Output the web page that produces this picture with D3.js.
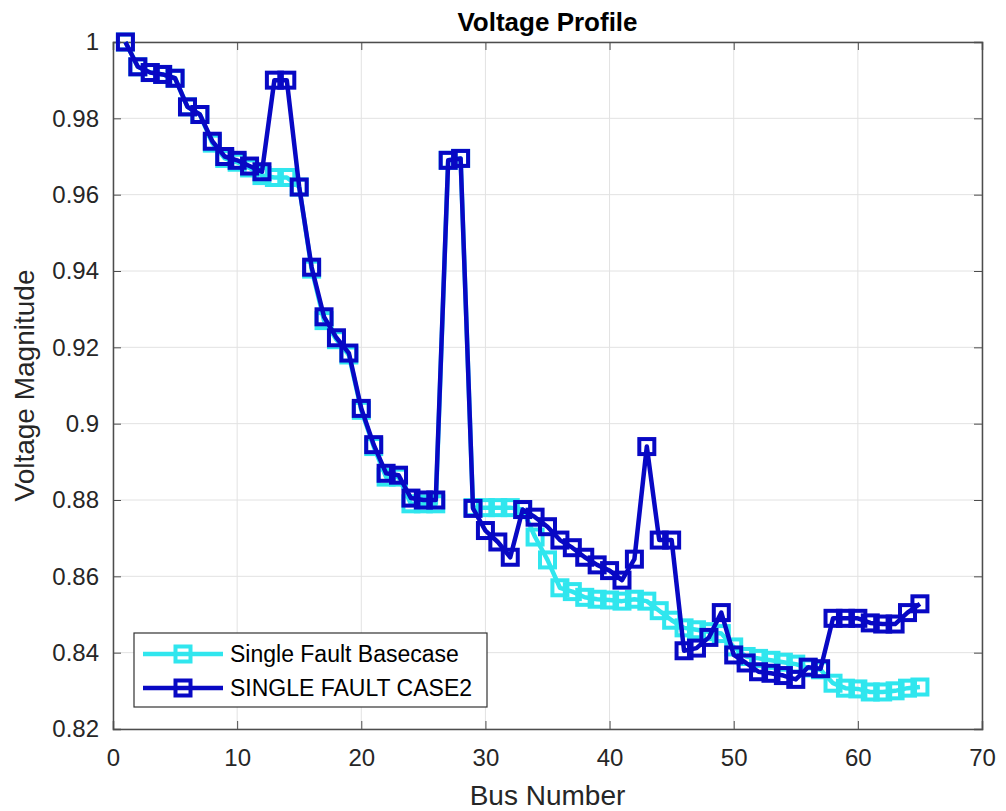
<!DOCTYPE html>
<html>
<head>
<meta charset="utf-8">
<script src="https://cdn.jsdelivr.net/npm/d3@7"></script>
<style>
  body { margin: 0; background: #fff; }
  svg text { font-family: Arial, "Liberation Sans", sans-serif; }
</style>
</head>
<body>
<div id="chart"></div>
<script>
// Bus numbers 1..65
const buses = d3.range(1, 66);

const baseCase = [
  1.000, 0.9935, 0.992, 0.9915, 0.9905, 0.983, 0.981, 0.9735, 0.9695, 0.9685,
  0.967, 0.965, 0.9645, 0.9645, 0.962, 0.9405, 0.927, 0.922, 0.918, 0.9035,
  0.894, 0.886, 0.886, 0.879, 0.879, 0.879, 0.969, 0.9695, 0.878, 0.878,
  0.878, 0.878, 0.8775, 0.8703, 0.8643, 0.857, 0.8560, 0.8545, 0.854, 0.8538,
  0.8535, 0.8540, 0.8535, 0.851, 0.8485, 0.8465, 0.846, 0.8455, 0.845, 0.8415,
  0.839, 0.8385, 0.838, 0.8375, 0.837, 0.836, 0.8355, 0.832, 0.8307, 0.8305,
  0.8297, 0.8297, 0.8300, 0.8307, 0.831
];

const case2 = [
  1.000, 0.9935, 0.992, 0.9915, 0.9905, 0.983, 0.981, 0.974, 0.970, 0.969,
  0.9675, 0.966, 0.990, 0.990, 0.962, 0.941, 0.928, 0.9225, 0.9185, 0.904,
  0.8945, 0.887, 0.8865, 0.8805, 0.880, 0.880, 0.969, 0.9695, 0.8778, 0.872,
  0.869, 0.865, 0.8775, 0.8755, 0.873, 0.8695, 0.8675, 0.865, 0.863, 0.8615,
  0.859, 0.8645, 0.894, 0.8695, 0.8695, 0.8405, 0.8412, 0.844, 0.8505, 0.8394,
  0.8373, 0.835, 0.8346, 0.834, 0.8330, 0.8362, 0.8358, 0.849, 0.849, 0.849,
  0.8478, 0.8475, 0.8475, 0.8505, 0.8528
];

const seriesNames = ['Single Fault Basecase', 'SINGLE FAULT CASE2'];
const seriesColors = ['#30e6ee', '#0808c4'];
const xTicks = [0, 10, 20, 30, 40, 50, 60, 70];
const yTicks = [0.82, 0.84, 0.86, 0.88, 0.9, 0.92, 0.94, 0.96, 0.98, 1];

const W = 1006, H = 811;
const margin = { left: 113, right: 24, top: 42, bottom: 82 };
const X = W - margin.left - margin.right;
const Y = H - margin.top - margin.bottom;

const svg = d3.select('#chart').append('svg')
  .attr('width', W)
  .attr('height', H);

const chart = svg.append('g').attr('transform', `translate(${margin.left}, ${margin.top})`);

const xScale = d3.scaleLinear().domain([0, 70]).range([0, X]);
const yScale = d3.scaleLinear().domain([0.82, 1]).range([Y, 0]);

// Grid lines
chart.append('g').selectAll('line')
  .data(xTicks).enter().append('line')
  .attr('x1', (d) => xScale(d)).attr('x2', (d) => xScale(d))
  .attr('y1', 0).attr('y2', Y)
  .attr('stroke', '#e2e2e2').attr('stroke-width', 1);

chart.append('g').selectAll('line')
  .data(yTicks).enter().append('line')
  .attr('x1', 0).attr('x2', X)
  .attr('y1', (d) => yScale(d)).attr('y2', (d) => yScale(d))
  .attr('stroke', '#e2e2e2').attr('stroke-width', 1);

// Axes (ticks point inward like MATLAB)
const xAxis = d3.axisBottom(xScale).tickValues(xTicks).tickSize(-8).tickPadding(20)
  .tickFormat(d3.format('d'));
const yAxis = d3.axisLeft(yScale).tickValues(yTicks).tickSize(-8).tickPadding(14)
  .tickFormat((d) => (d === 1 ? '1' : d3.format('.2~f')(d)));

const gx = chart.append('g').attr('transform', `translate(0, ${Y})`).call(xAxis);
const gy = chart.append('g').call(yAxis);
const gxTop = chart.append('g').call(d3.axisTop(xScale).tickValues(xTicks).tickSize(-8).tickFormat(''));
const gyRight = chart.append('g').attr('transform', `translate(${X}, 0)`)
  .call(d3.axisRight(yScale).tickValues(yTicks).tickSize(-8).tickFormat(''));

[gx, gy, gxTop, gyRight].forEach((g) => {
  g.select('.domain').attr('stroke', '#4d4d4d').attr('stroke-width', 1.5);
  g.selectAll('.tick line').attr('stroke', '#4d4d4d');
  g.selectAll('.tick text').attr('font-size', 24).attr('fill', '#262626');
});

// Series
const series = [baseCase, case2];
const line = d3.line().x((d, i) => xScale(buses[i])).y((d) => yScale(d));

series.forEach((vals, s) => {
  chart.append('path')
    .datum(vals)
    .attr('fill', 'none')
    .attr('stroke', seriesColors[s])
    .attr('stroke-width', 4.5)
    .attr('stroke-linejoin', 'round')
    .attr('d', line);

  chart.append('g').selectAll('rect')
    .data(vals).enter().append('rect')
    .attr('x', (d, i) => xScale(buses[i]) - 7.5)
    .attr('y', (d) => yScale(d) - 7.5)
    .attr('width', 15)
    .attr('height', 15)
    .attr('fill', 'none')
    .attr('stroke', seriesColors[s])
    .attr('stroke-width', 4);
});

// Title and labels
svg.append('text')
  .attr('x', margin.left + X / 2)
  .attr('y', 31)
  .attr('text-anchor', 'middle')
  .attr('font-size', 26)
  .attr('font-weight', 'bold')
  .attr('fill', '#000')
  .text('Voltage Profile');

svg.append('text')
  .attr('x', margin.left + X / 2)
  .attr('y', 805)
  .attr('text-anchor', 'middle')
  .attr('font-size', 28)
  .attr('fill', '#262626')
  .text('Bus Number');

svg.append('text')
  .attr('transform', `translate(34, ${margin.top + Y / 2}) rotate(-90)`)
  .attr('text-anchor', 'middle')
  .attr('font-size', 28)
  .attr('fill', '#262626')
  .text('Voltage Magnitude');

// Legend
const legend = svg.append('g').attr('transform', 'translate(134, 633)');
legend.append('rect')
  .attr('width', 353).attr('height', 74)
  .attr('fill', '#fff').attr('stroke', '#333').attr('stroke-width', 1.2);

seriesNames.forEach((name, s) => {
  const yy = 21 + s * 34;
  legend.append('line')
    .attr('x1', 9).attr('x2', 89).attr('y1', yy).attr('y2', yy)
    .attr('stroke', seriesColors[s]).attr('stroke-width', 4.5);
  legend.append('rect')
    .attr('x', 41.5).attr('y', yy - 7.5).attr('width', 15).attr('height', 15)
    .attr('fill', 'none').attr('stroke', seriesColors[s]).attr('stroke-width', 4);
  legend.append('text')
    .attr('x', 96).attr('y', yy + 8)
    .attr('font-size', 23).attr('fill', '#000')
    .text(name);
});
</script>
</body>
</html>
